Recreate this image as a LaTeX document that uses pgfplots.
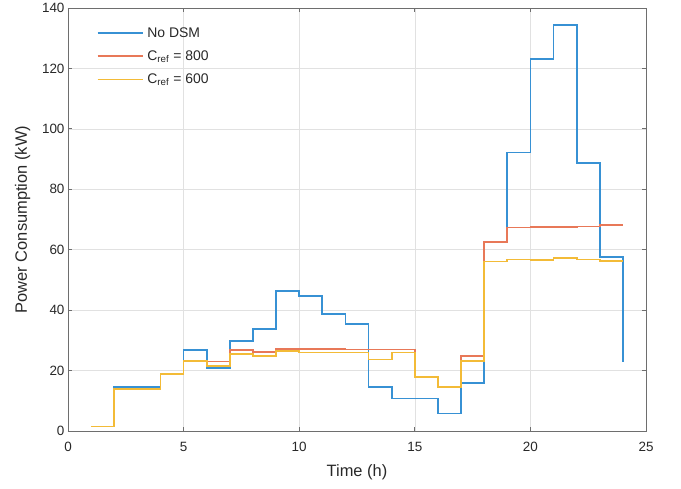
\documentclass[border=0pt]{standalone}
\usepackage{fontspec}
\setmainfont{Liberation Sans}
\usepackage{pgfplots}
\pgfplotsset{compat=1.18}
\definecolor{mblue}{RGB}{55,145,212}
\definecolor{mred}{RGB}{232,120,88}
\definecolor{myellow}{RGB}{243,187,55}
\definecolor{gridc}{RGB}{225,225,225}
\definecolor{axc}{RGB}{110,110,110}
\definecolor{txtc}{RGB}{40,40,40}
\begin{document}
\begin{tikzpicture}
\begin{axis}[
  at={(0,0)}, anchor=south west,
  width=578bp, height=423bp, scale only axis,
  xmin=0, xmax=25, ymin=0, ymax=140,
  xtick={0,5,10,15,20,25}, ytick={0,20,40,60,80,100,120,140},
  grid=major, major grid style={gridc, line width=0.6pt},
  axis line style={axc, line width=0.9pt},
  tick style={axc, line width=0.9pt}, tick align=inside,
  major tick length=4bp,
  ticklabel style={font=\fontsize{13.5}{15}\selectfont, text=txtc},
  xticklabel style={yshift=-8bp},
  /pgf/number format/assume math mode=true,
  xlabel={Time (h)}, ylabel={Power Consumption (kW)},
  label style={font=\fontsize{16.5}{18}\selectfont, text=txtc},
  xlabel style={yshift=-6bp},
  ylabel style={yshift=5bp},
  legend style={draw=none, fill=none, at={(axis cs:1.1,135)}, anchor=north west,
    font=\fontsize{14}{16}\selectfont, text=txtc, row sep=8bp,
    legend cell align=left,
    nodes={inner xsep=4bp}},
  legend image code/.code={\draw[#1] (0bp,0bp) -- (45bp,0bp);},
  every axis plot/.append style={line width=1.8pt, const plot mark left, no marks},
]
\addlegendimage{color=mblue, line width=1.8pt}
\addlegendentry{No DSM}
\addlegendimage{color=mred, line width=1.8pt}
\addlegendentry{C\textsubscript{ref} = 800}
\addlegendimage{color=myellow, line width=1.8pt}
\addlegendentry{C\textsubscript{ref} = 600}
\addplot[color=mblue, forget plot] coordinates {
(1,1.5) (2,14.5) (3,14.5) (4,18.8) (5,26.8) (6,20.9) (7,29.8) (8,33.8)
(9,46.4) (10,44.8) (11,38.7) (12,35.4) (13,14.7) (14,10.8) (15,10.8) (16,5.8)
(17,15.8) (18,62.7) (19,92.2) (20,123.2) (21,134.3) (22,88.6) (23,57.7) (24,23.0)};
\addplot[color=mred, forget plot] coordinates {
(1,1.5) (2,14.0) (3,14.0) (4,18.8) (5,23.2) (6,23.0) (7,26.8) (8,26.3)
(9,27.2) (10,27.2) (11,27.1) (12,27.0) (13,27.0) (14,27.0) (15,17.8) (16,14.7)
(17,24.8) (18,62.7) (19,67.4) (20,67.5) (21,67.6) (22,67.7) (23,68.2) (24,68.2)};
\addplot[color=myellow, forget plot] coordinates {
(1,1.5) (2,14.0) (3,14.0) (4,18.8) (5,23.2) (6,21.5) (7,25.5) (8,24.8)
(9,26.5) (10,26.0) (11,26.0) (12,26.0) (13,23.7) (14,26.0) (15,17.8) (16,14.7)
(17,23.3) (18,56.1) (19,56.8) (20,56.6) (21,57.2) (22,56.8) (23,56.3) (24,56.3)};
\end{axis}
\useasboundingbox (-68bp,-57bp) rectangle (613bp,431bp);
\end{tikzpicture}
\end{document}
